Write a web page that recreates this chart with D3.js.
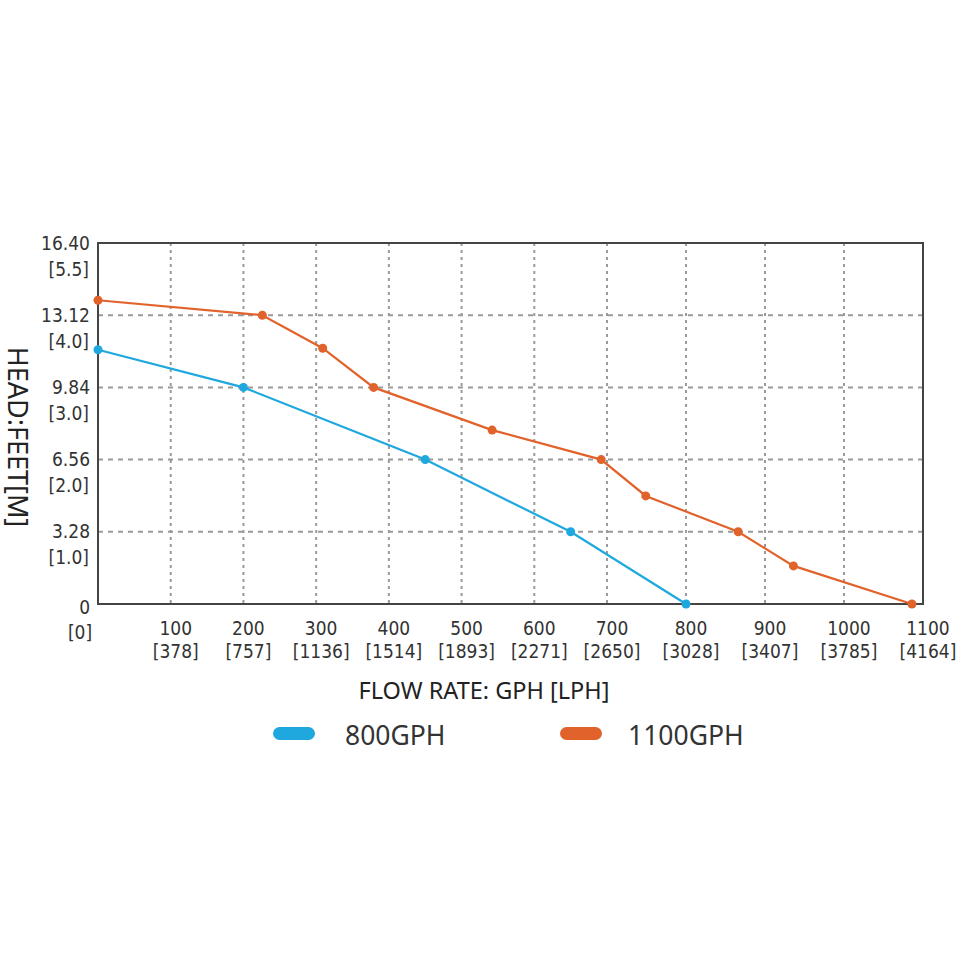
<!DOCTYPE html>
<html lang="en">
<head>
    <meta charset="UTF-8">
    <title>Pump flow curve</title>
    <script src="https://cdn.jsdelivr.net/npm/d3@7"></script>
    <style>
        body { margin: 0; background: #fff; }
        .tick-label { font-family: "DejaVu Sans Condensed", "DejaVu Sans", sans-serif; font-stretch: condensed; font-size: 19px; fill: #333; }
        .title { font-family: "Noto Sans", "Open Sans", sans-serif; fill: #222; }
    </style>
</head>
<body>
<div id="chart"></div>
<script>
    // flow rate ticks (GPH) and the LPH values under them
    var xTicks = [0, 100, 200, 300, 400, 500, 600, 700, 800, 900, 1000, 1100];
    var xTickLph = ["[0]", "[378]", "[757]", "[1136]", "[1514]", "[1893]", "[2271]", "[2650]", "[3028]", "[3407]", "[3785]", "[4164]"];
    // head ticks (feet) and metres
    var yTicks = [0, 3.28, 6.56, 9.84, 13.12, 16.40];
    var yTickFeet = ["0", "3.28", "6.56", "9.84", "13.12", "16.40"];
    var yTickM = ["", "[1.0]", "[2.0]", "[3.0]", "[4.0]", "[5.5]"];

    var seriesNames = ["800GPH", "1100GPH"];
    var seriesColors = ["#1ea8de", "#e2622b"];

    // 800GPH pump
    var flow800 = [0, 200, 450, 650, 800];
    var head800 = [11.55, 9.84, 6.56, 3.28, 0];
    // 1100GPH pump
    var flow1100 = [0, 226, 309, 379, 542, 692, 749, 866, 936, 1086];
    var head1100 = [13.8, 13.12, 11.62, 9.84, 7.9, 6.56, 4.91, 3.28, 1.73, 0];

    var width = 971, height = 971;
    var margin = {left: 98, top: 243, right: 48, bottom: 367};
    var w = width - margin.left - margin.right;
    var h = height - margin.top - margin.bottom;

    var svg = d3.select("#chart").append("svg")
        .attr("width", width).attr("height", height);
    var g = svg.append("g").attr("transform", "translate(" + margin.left + "," + margin.top + ")");

    // the original grid is not evenly spaced: the last 400 GPH are wider
    var x = d3.scaleLinear().domain([0, 700, 1100]).range([0, w * 0.617, w]);
    var y = d3.scaleLinear().domain([0, 16.40]).range([h, 0]);

    // grid
    g.selectAll("line.vgrid").data(xTicks.slice(1, -1)).enter()
        .append("line").attr("class", "vgrid")
        .attr("x1", function(d) { return x(d); }).attr("x2", function(d) { return x(d); })
        .attr("y1", 0).attr("y2", h)
        .style("stroke", "#9a9a9a").style("stroke-width", 2).style("stroke-dasharray", "3,4");
    g.selectAll("line.hgrid").data(yTicks.slice(1, -1)).enter()
        .append("line").attr("class", "hgrid")
        .attr("x1", 0).attr("x2", w)
        .attr("y1", function(d) { return y(d); }).attr("y2", function(d) { return y(d); })
        .style("stroke", "#9a9a9a").style("stroke-width", 2).style("stroke-dasharray", "5,5");

    // frame
    g.append("rect").attr("width", w).attr("height", h)
        .style("fill", "none").style("stroke", "#444").style("stroke-width", 2);

    // y tick labels (two lines)
    yTicks.forEach(function(d, i) {
        g.append("text").attr("class", "tick-label")
            .attr("x", -8).attr("y", y(d) + (i == 0 ? 3 : 0)).attr("dy", "0.35em")
            .attr("text-anchor", "end").text(yTickFeet[i]);
        if (yTickM[i]) {
            g.append("text").attr("class", "tick-label")
                .attr("x", -9).attr("y", y(d) + 26).attr("dy", "0.35em")
                .attr("text-anchor", "end").text(yTickM[i]);
        }
    });

    // x tick labels (two lines)
    xTicks.forEach(function(d, i) {
        if (i > 0) {
            g.append("text").attr("class", "tick-label")
                .attr("x", x(d) + 5).attr("y", h + 24).attr("dy", "0.35em")
                .attr("text-anchor", "middle").text(d);
        }
        g.append("text").attr("class", "tick-label")
            .attr("x", i == 0 ? x(d) - 18 : x(d) + 5).attr("y", h + (i == 0 ? 28 : 47)).attr("dy", "0.35em")
            .attr("text-anchor", "middle").text(xTickLph[i]);
    });

    // lines
    var line = d3.line()
        .x(function(d) { return x(d[0]); })
        .y(function(d) { return y(d[1]); });

    var series = [d3.zip(flow800, head800), d3.zip(flow1100, head1100)];
    series.forEach(function(s, i) {
        g.append("path").attr("d", line(s))
            .style("fill", "none").style("stroke", seriesColors[i]).style("stroke-width", 2.2);
        g.selectAll("circle.s" + i).data(s).enter()
            .append("circle").attr("class", "s" + i)
            .attr("cx", function(d) { return x(d[0]); })
            .attr("cy", function(d) { return y(d[1]); })
            .attr("r", 4.5)
            .style("fill", seriesColors[i]);
    });

    // axis titles
    svg.append("text").attr("class", "title")
        .attr("x", 484).attr("y", 691).attr("dy", "0.35em")
        .attr("text-anchor", "middle").style("font-size", "23.5px")
        .text("FLOW RATE: GPH [LPH]");
    svg.append("text").attr("class", "title")
        .attr("transform", "translate(17,437) rotate(90)")
        .attr("text-anchor", "middle").attr("dy", "0.35em")
        .style("font-size", "27px")
        .text("HEAD:FEET[M]");

    // legend
    var legendX = [273, 560];
    var legendTextX = [345, 628];
    seriesNames.forEach(function(name, i) {
        svg.append("rect")
            .attr("x", legendX[i]).attr("y", 727).attr("width", 42).attr("height", 13)
            .attr("rx", 6.5).style("fill", seriesColors[i]);
        svg.append("text").attr("class", "title")
            .attr("x", legendTextX[i]).attr("y", 736).attr("dy", "0.35em")
            .style("font-size", "26.5px").style("fill", "#333")
            .text(name);
    });
</script>
</body>
</html>
